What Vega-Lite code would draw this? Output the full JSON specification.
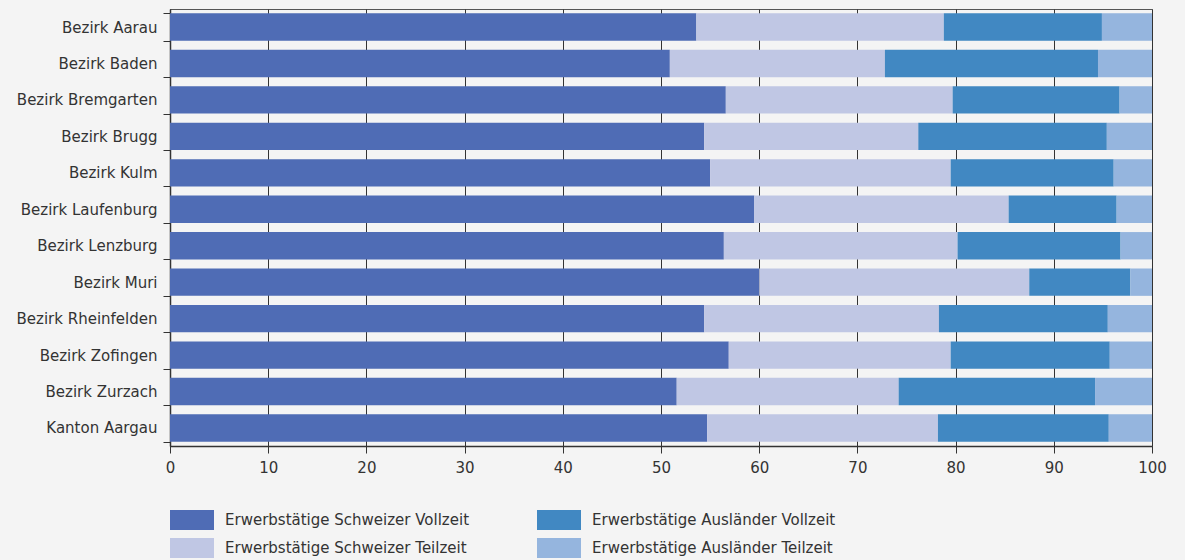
{
  "$schema": "https://vega.github.io/schema/vega-lite/v6.json",
  "width": 982,
  "height": 437,
  "autosize": {"type": "none"},
  "padding": {"left": 170, "top": 9, "right": 33, "bottom": 114},
  "background": "#f4f4f4",
  "config": {
    "view": {"stroke": "#555", "strokeWidth": 1},
    "font": "DejaVu Sans"
  },
  "data": {
    "values": [
      {"region": "Bezirk Aarau", "series": "Erwerbstätige Schweizer Vollzeit", "k": 1, "value": 53.6},
      {"region": "Bezirk Aarau", "series": "Erwerbstätige Schweizer Teilzeit", "k": 2, "value": 25.2},
      {"region": "Bezirk Aarau", "series": "Erwerbstätige Ausländer Vollzeit", "k": 3, "value": 16.1},
      {"region": "Bezirk Aarau", "series": "Erwerbstätige Ausländer Teilzeit", "k": 4, "value": 5.1},
      {"region": "Bezirk Baden", "series": "Erwerbstätige Schweizer Vollzeit", "k": 1, "value": 50.9},
      {"region": "Bezirk Baden", "series": "Erwerbstätige Schweizer Teilzeit", "k": 2, "value": 21.9},
      {"region": "Bezirk Baden", "series": "Erwerbstätige Ausländer Vollzeit", "k": 3, "value": 21.7},
      {"region": "Bezirk Baden", "series": "Erwerbstätige Ausländer Teilzeit", "k": 4, "value": 5.5},
      {"region": "Bezirk Bremgarten", "series": "Erwerbstätige Schweizer Vollzeit", "k": 1, "value": 56.6},
      {"region": "Bezirk Bremgarten", "series": "Erwerbstätige Schweizer Teilzeit", "k": 2, "value": 23.1},
      {"region": "Bezirk Bremgarten", "series": "Erwerbstätige Ausländer Vollzeit", "k": 3, "value": 17.0},
      {"region": "Bezirk Bremgarten", "series": "Erwerbstätige Ausländer Teilzeit", "k": 4, "value": 3.3},
      {"region": "Bezirk Brugg", "series": "Erwerbstätige Schweizer Vollzeit", "k": 1, "value": 54.4},
      {"region": "Bezirk Brugg", "series": "Erwerbstätige Schweizer Teilzeit", "k": 2, "value": 21.8},
      {"region": "Bezirk Brugg", "series": "Erwerbstätige Ausländer Vollzeit", "k": 3, "value": 19.2},
      {"region": "Bezirk Brugg", "series": "Erwerbstätige Ausländer Teilzeit", "k": 4, "value": 4.6},
      {"region": "Bezirk Kulm", "series": "Erwerbstätige Schweizer Vollzeit", "k": 1, "value": 55.0},
      {"region": "Bezirk Kulm", "series": "Erwerbstätige Schweizer Teilzeit", "k": 2, "value": 24.5},
      {"region": "Bezirk Kulm", "series": "Erwerbstätige Ausländer Vollzeit", "k": 3, "value": 16.6},
      {"region": "Bezirk Kulm", "series": "Erwerbstätige Ausländer Teilzeit", "k": 4, "value": 3.9},
      {"region": "Bezirk Laufenburg", "series": "Erwerbstätige Schweizer Vollzeit", "k": 1, "value": 59.5},
      {"region": "Bezirk Laufenburg", "series": "Erwerbstätige Schweizer Teilzeit", "k": 2, "value": 25.9},
      {"region": "Bezirk Laufenburg", "series": "Erwerbstätige Ausländer Vollzeit", "k": 3, "value": 11.0},
      {"region": "Bezirk Laufenburg", "series": "Erwerbstätige Ausländer Teilzeit", "k": 4, "value": 3.6},
      {"region": "Bezirk Lenzburg", "series": "Erwerbstätige Schweizer Vollzeit", "k": 1, "value": 56.4},
      {"region": "Bezirk Lenzburg", "series": "Erwerbstätige Schweizer Teilzeit", "k": 2, "value": 23.8},
      {"region": "Bezirk Lenzburg", "series": "Erwerbstätige Ausländer Vollzeit", "k": 3, "value": 16.6},
      {"region": "Bezirk Lenzburg", "series": "Erwerbstätige Ausländer Teilzeit", "k": 4, "value": 3.2},
      {"region": "Bezirk Muri", "series": "Erwerbstätige Schweizer Vollzeit", "k": 1, "value": 60.0},
      {"region": "Bezirk Muri", "series": "Erwerbstätige Schweizer Teilzeit", "k": 2, "value": 27.5},
      {"region": "Bezirk Muri", "series": "Erwerbstätige Ausländer Vollzeit", "k": 3, "value": 10.3},
      {"region": "Bezirk Muri", "series": "Erwerbstätige Ausländer Teilzeit", "k": 4, "value": 2.2},
      {"region": "Bezirk Rheinfelden", "series": "Erwerbstätige Schweizer Vollzeit", "k": 1, "value": 54.4},
      {"region": "Bezirk Rheinfelden", "series": "Erwerbstätige Schweizer Teilzeit", "k": 2, "value": 23.9},
      {"region": "Bezirk Rheinfelden", "series": "Erwerbstätige Ausländer Vollzeit", "k": 3, "value": 17.2},
      {"region": "Bezirk Rheinfelden", "series": "Erwerbstätige Ausländer Teilzeit", "k": 4, "value": 4.5},
      {"region": "Bezirk Zofingen", "series": "Erwerbstätige Schweizer Vollzeit", "k": 1, "value": 56.9},
      {"region": "Bezirk Zofingen", "series": "Erwerbstätige Schweizer Teilzeit", "k": 2, "value": 22.6},
      {"region": "Bezirk Zofingen", "series": "Erwerbstätige Ausländer Vollzeit", "k": 3, "value": 16.2},
      {"region": "Bezirk Zofingen", "series": "Erwerbstätige Ausländer Teilzeit", "k": 4, "value": 4.3},
      {"region": "Bezirk Zurzach", "series": "Erwerbstätige Schweizer Vollzeit", "k": 1, "value": 51.6},
      {"region": "Bezirk Zurzach", "series": "Erwerbstätige Schweizer Teilzeit", "k": 2, "value": 22.6},
      {"region": "Bezirk Zurzach", "series": "Erwerbstätige Ausländer Vollzeit", "k": 3, "value": 20.0},
      {"region": "Bezirk Zurzach", "series": "Erwerbstätige Ausländer Teilzeit", "k": 4, "value": 5.8},
      {"region": "Kanton Aargau", "series": "Erwerbstätige Schweizer Vollzeit", "k": 1, "value": 54.7},
      {"region": "Kanton Aargau", "series": "Erwerbstätige Schweizer Teilzeit", "k": 2, "value": 23.5},
      {"region": "Kanton Aargau", "series": "Erwerbstätige Ausländer Vollzeit", "k": 3, "value": 17.4},
      {"region": "Kanton Aargau", "series": "Erwerbstätige Ausländer Teilzeit", "k": 4, "value": 4.4}
    ]
  },
  "mark": {"type": "bar", "clip": true},
  "encoding": {
    "y": {
      "field": "region",
      "type": "nominal",
      "sort": null,
      "scale": {"paddingInner": 0.25, "paddingOuter": 0.12},
      "axis": {
        "title": null,
        "tickBand": "extent",
        "tickSize": 7,
        "tickColor": "#333",
        "domainColor": "#333",
        "domainWidth": 1.5,
        "labelFontSize": 15,
        "labelColor": "#333",
        "labelPadding": 6,
        "grid": false
      }
    },
    "x": {
      "field": "value",
      "type": "quantitative",
      "stack": "zero",
      "scale": {"domain": [0, 100], "nice": false},
      "axis": {
        "title": null,
        "values": [0, 10, 20, 30, 40, 50, 60, 70, 80, 90, 100],
        "grid": true,
        "gridColor": "#333",
        "gridOpacity": 1,
        "tickSize": 7,
        "tickColor": "#333",
        "domainColor": "#333",
        "domainWidth": 1.5,
        "labelFontSize": 15,
        "labelColor": "#333",
        "labelPadding": 7,
        "labelFlush": false,
        "labelOverlap": false
      }
    },
    "color": {
      "field": "series",
      "type": "nominal",
      "scale": {
        "domain": [
          "Erwerbstätige Schweizer Vollzeit",
          "Erwerbstätige Schweizer Teilzeit",
          "Erwerbstätige Ausländer Vollzeit",
          "Erwerbstätige Ausländer Teilzeit"
        ],
        "range": ["#4f6cb5", "#c0c7e4", "#4188c2", "#95b5de"]
      },
      "legend": {
        "title": null,
        "orient": "none",
        "legendX": 0,
        "legendY": 501,
        "columns": 2,
        "symbolType": "M-1,-1H3.4V1H-1Z",
        "symbolSize": 400,
        "symbolStrokeWidth": 0,
        "rowPadding": 8,
        "columnPadding": 67,
        "labelFontSize": 15,
        "labelColor": "#333",
        "labelOffset": 35,
        "labelLimit": 400
      }
    },
    "order": {"field": "k"}
  }
}
